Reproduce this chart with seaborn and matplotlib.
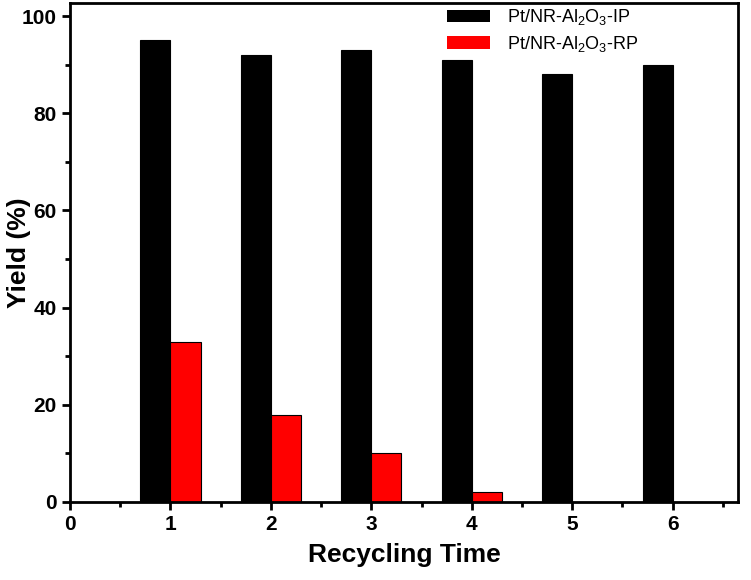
import numpy as np
import pandas as pd
import matplotlib
matplotlib.use("Agg")
import matplotlib.pyplot as plt
import seaborn as sns
from matplotlib.ticker import MultipleLocator

########################################################################
# Dados
########################################################################
ciclos = [1, 2, 3, 4, 5, 6]
rend_ip = [95, 92, 93, 91, 88, 90]
rend_rp = [33, 18, 10, 2, 0, 0]
rotulos = ["Pt/NR-Al$_2$O$_3$-IP", "Pt/NR-Al$_2$O$_3$-RP"]
cores = ["#000000", "#ff0000"]

df = pd.DataFrame({
    "ciclo": ciclos * 2,
    "rend": rend_ip + rend_rp,
    "amostra": [rotulos[0]] * len(ciclos) + [rotulos[1]] * len(ciclos),
})

########################################################################
# Estilo
########################################################################
sns.set_style("ticks")
plt.rcParams["font.family"] = ["Liberation Sans", "DejaVu Sans"]
plt.rcParams["mathtext.fontset"] = "custom"
plt.rcParams["mathtext.rm"] = "Liberation Sans"
plt.rcParams["mathtext.it"] = "Liberation Sans"
plt.rcParams["text.color"] = "black"
plt.rcParams["axes.labelcolor"] = "black"
plt.rcParams["xtick.color"] = "black"
plt.rcParams["ytick.color"] = "black"

fig = plt.figure(figsize=(7.51, 5.80), dpi=100)
ax = fig.add_axes([0.0932, 0.1345, 0.8895, 0.8603])

sns.barplot(data=df, x="ciclo", y="rend", hue="amostra", native_scale=True,
            palette=cores, width=0.6, edgecolor="black", linewidth=0.8,
            saturation=1, ax=ax)

ax.set_xlim(0, 6.65)
ax.set_ylim(0, 102.7)
ax.xaxis.set_major_locator(MultipleLocator(1))
ax.xaxis.set_minor_locator(MultipleLocator(0.5))
ax.yaxis.set_major_locator(MultipleLocator(20))
ax.yaxis.set_minor_locator(MultipleLocator(10))

for s in ax.spines.values():
    s.set_linewidth(2)
    s.set_color("black")
ax.tick_params(which="major", direction="out", length=6, width=2,
               labelsize=15)
ax.tick_params(which="minor", direction="out", length=3.5, width=2)
for t in ax.get_xticklabels() + ax.get_yticklabels():
    t.set_fontweight("bold")

ax.set_xlabel("Recycling Time", fontsize=19, fontweight="bold", labelpad=6)
ax.set_ylabel("Yield (%)", fontsize=19, fontweight="bold")
ax.yaxis.set_label_coords(-0.058, 0.5)

leg = ax.legend(loc="upper left", bbox_to_anchor=(0.54, 1.024), frameon=False,
                fontsize=13, handlelength=2.4, handleheight=0.7,
                handletextpad=0.9, labelspacing=0.35)
for h in leg.legend_handles:
    h.set_linewidth(0)

fig.savefig("out.png", dpi=100)
